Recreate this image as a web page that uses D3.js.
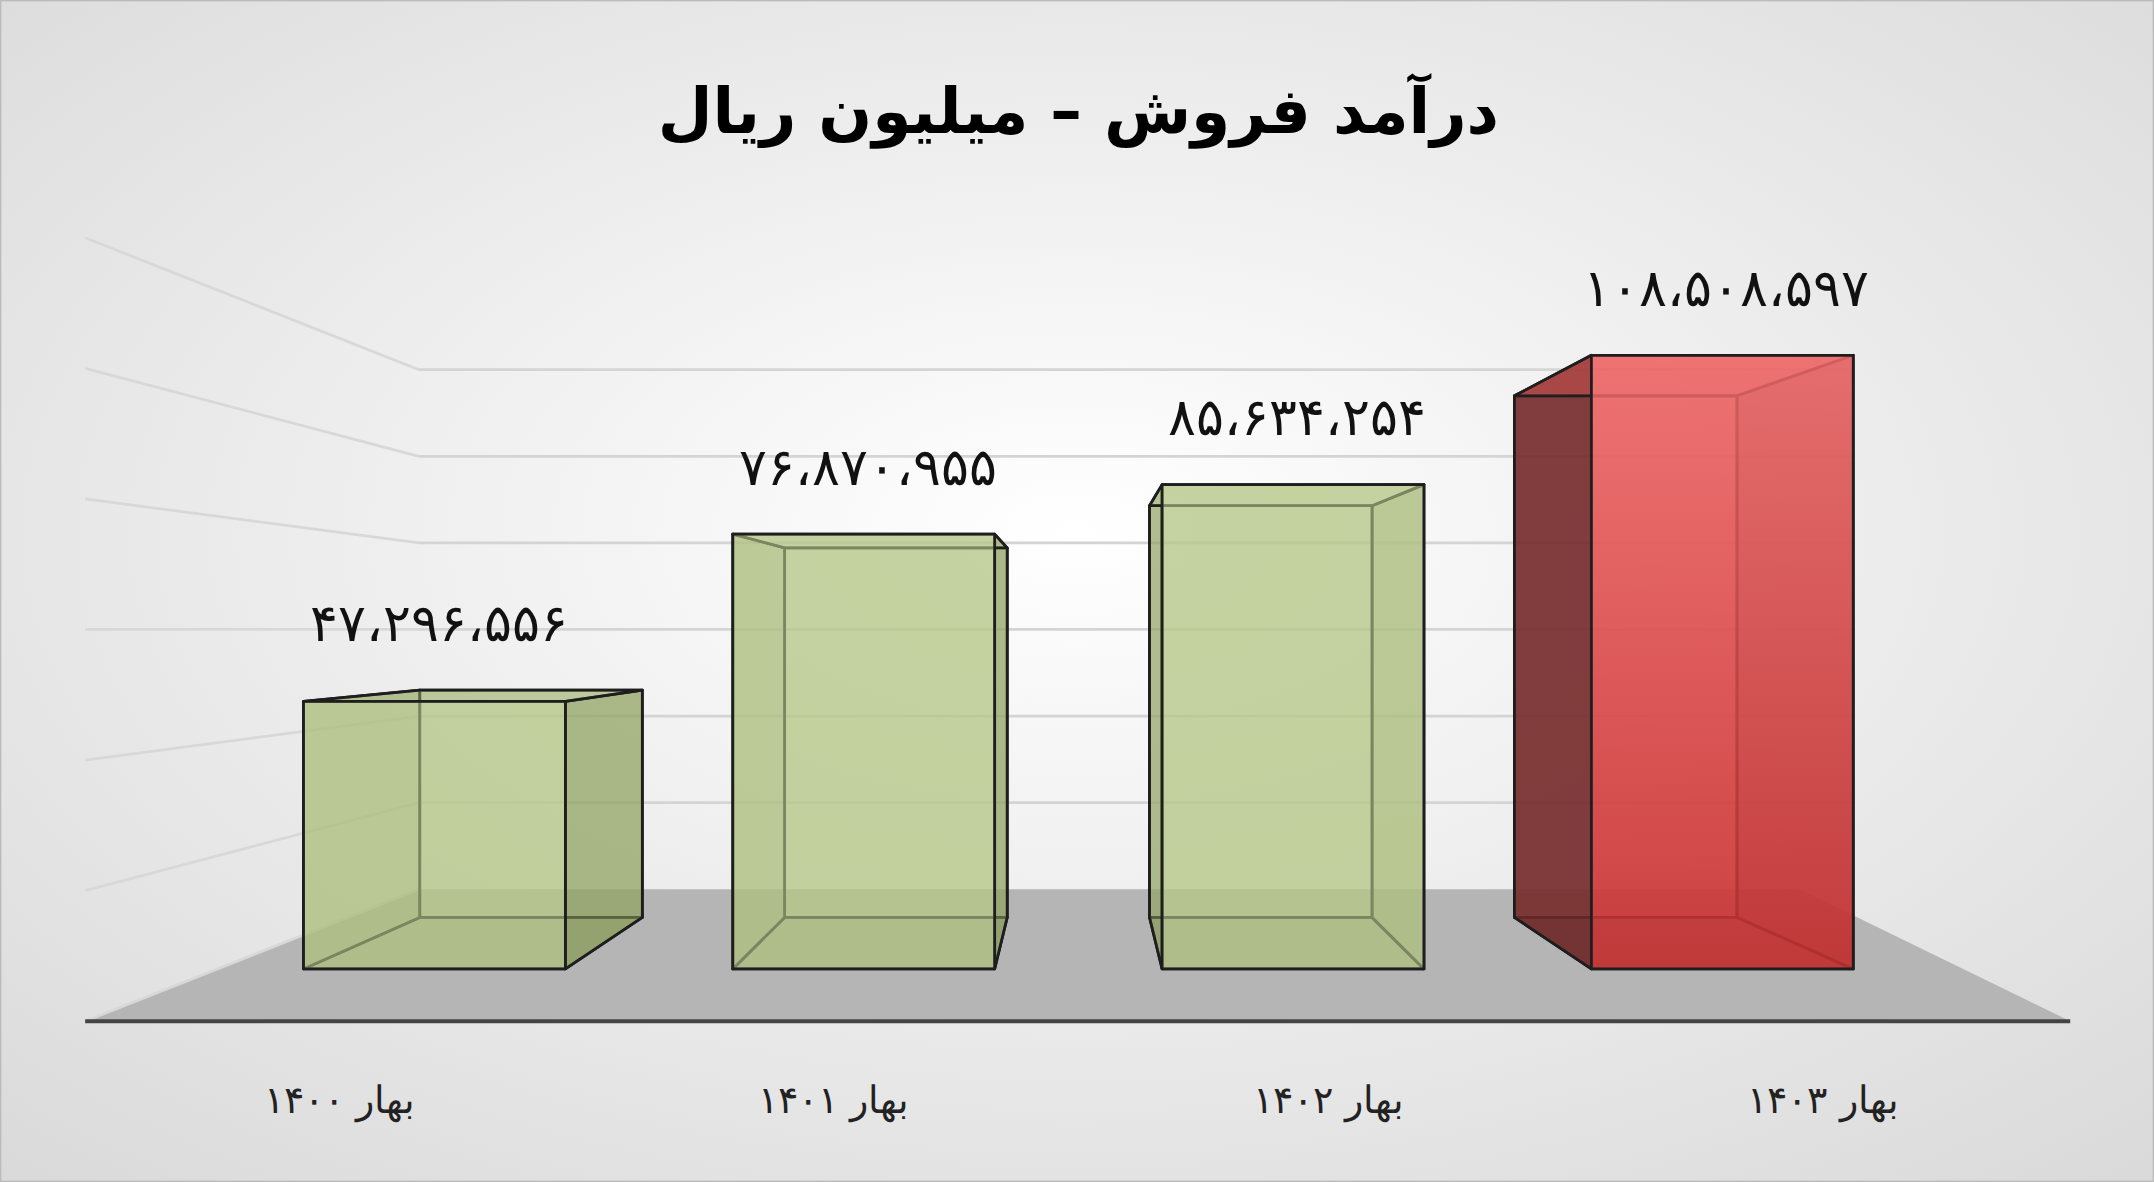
<!DOCTYPE html>
<html><head><meta charset="utf-8">
<script src="https://cdn.jsdelivr.net/npm/d3@7"></script>
<style>body{margin:0;overflow:hidden}svg{display:block}</style>
</head><body>
<script>
const categories = ["بهار ۱۴۰۰","بهار ۱۴۰۱","بهار ۱۴۰۲","بهار ۱۴۰۳"];
const values = [47296556, 76870955, 85634254, 108508597];
const highlight = [false, false, false, true];
const gridValues = [0, 20000000, 40000000, 60000000, 80000000, 100000000, 120000000];
const title = "درآمد فروش – میلیون ریال";

const W=1568,H=860;
const svg=d3.select("body").append("svg").attr("width",2154).attr("height",1182).attr("viewBox",`0 0 ${W} ${H}`).attr("preserveAspectRatio","none");
const defs=svg.append("defs");
const rg=defs.append("radialGradient").attr("id","bg").attr("cx","50%").attr("cy","45%").attr("r","75%");
rg.append("stop").attr("offset","0%").attr("stop-color","#ffffff");
rg.append("stop").attr("offset","100%").attr("stop-color","#d9d9d9");
const redG=defs.append("linearGradient").attr("id","red").attr("x1",0).attr("y1",0).attr("x2",0).attr("y2",1);
redG.append("stop").attr("offset","0%").attr("stop-color","#f06a6a");
redG.append("stop").attr("offset","100%").attr("stop-color","#c83030");
svg.append("rect").attr("x",0.5).attr("y",0.5).attr("width",W-1).attr("height",H-1).attr("fill","url(#bg)").attr("stroke","#bbb");

svg.append("text").attr("x",785).attr("y",97).attr("text-anchor","middle").attr("direction","rtl")
 .attr("font-family","'DejaVu Sans',sans-serif").attr("font-weight","bold").attr("font-size",46).text(title);

const VX=785,VY=455,K=0.85;
const back=([x,y])=>[VX+(x-VX)*K, VY+(y-VY)*K];
const y=d3.scaleLinear().domain([0,100000000]).range([705,705-411.5]);
const xFront=d3.scaleBand().domain(categories).range([160,1410]).paddingInner(0.39).paddingOuter(0.195);
const xLab=d3.scaleBand().domain(categories).range([67,1507]);
const gBack=d3.scaleLinear().domain([0,20000000]).range([647,584]);
const gFront=d3.scaleLinear().domain([0,20000000]).range([743,648]);

svg.append("polygon").attr("points",[[62,743],[1507,743],[1310,647],[305,647]].join(" ")).attr("fill","#b5b5b5");
gridValues.forEach(v=>{
  if(v===0) return;
  svg.append("line").attr("x1",305).attr("x2",1350).attr("y1",gBack(v)).attr("y2",gBack(v)).attr("stroke","#d4d4d4").attr("stroke-width",2);
  svg.append("line").attr("x1",62).attr("x2",305).attr("y1",gFront(v)).attr("y2",gBack(v)).attr("stroke","#d8d8d8").attr("stroke-width",2);
});
svg.append("line").attr("x1",62).attr("x2",305).attr("y1",743).attr("y2",647).attr("stroke","#d8d8d8").attr("stroke-width",2);
svg.append("line").attr("x1",62).attr("x2",1507).attr("y1",743).attr("y2",743).attr("stroke","#444").attr("stroke-width",3);

const fmt=n=>d3.format(",")(n).replace(/,/g,"،").replace(/\d/g,d=>"۰۱۲۳۴۵۶۷۸۹"[d]);

categories.forEach((c,i)=>{
  const x0=xFront(c),x1=x0+xFront.bandwidth(),yt=y(values[i]),yb=y(0);
  const F=[[x0,yt],[x1,yt],[x1,yb],[x0,yb]];
  const B=F.map(back);
  const g=svg.append("g").attr("stroke","#1e1e1e").attr("stroke-width",2).attr("stroke-linejoin","round");
  const red=highlight[i];
  const face=red?"#d94848":"#a6b878", side=red?"#6e2a2a":"#8a9c5c";
  const poly=(pts,fill,op)=>g.append("polygon").attr("points",pts.join(" ")).attr("fill",fill).attr("fill-opacity",op);
  poly(B,face,0.45);
  poly([F[3],F[2],B[2],B[3]],side,0.5);
  poly([F[0],F[3],B[3],B[0]],side,red?0.85:0.5);
  poly([F[1],F[2],B[2],B[1]],side,0.55);
  poly([F[0],F[1],B[1],B[0]],face,0.45);
  g.append("polygon").attr("points",F.join(" ")).attr("fill",red?"url(#red)":"#b9cc8c").attr("fill-opacity",red?0.85:0.6);
  svg.append("text").attr("x",x0+xFront.bandwidth()/2+3).attr("y",Math.min(yt,B[0][1])-36)
    .attr("text-anchor","middle").attr("font-family","'DejaVu Serif','Liberation Serif',serif").attr("font-size",38)
    .attr("fill","#111").text(fmt(values[i]));
  svg.append("text").attr("x",xLab(c)+xLab.bandwidth()/2).attr("y",810).attr("text-anchor","middle").attr("direction","rtl")
    .attr("font-family","'DejaVu Serif','Liberation Serif',serif").attr("font-size",28).attr("fill","#222").text(c);
});
</script>
</body></html>
